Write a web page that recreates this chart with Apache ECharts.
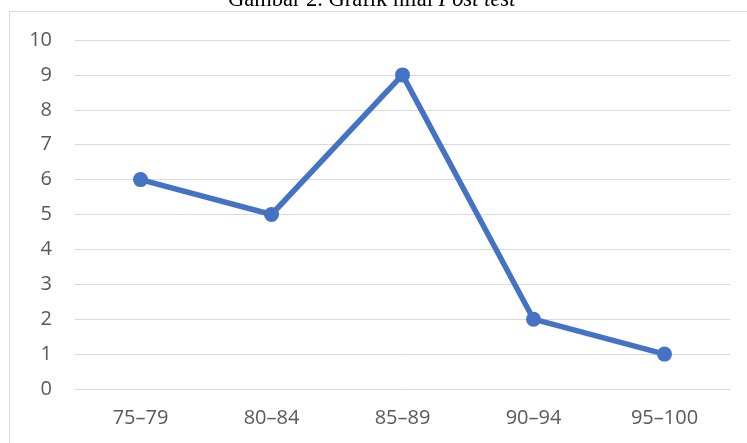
<!DOCTYPE html>
<html>
<head>
<meta charset="utf-8">
<script src="https://cdn.jsdelivr.net/npm/echarts@6/dist/echarts.min.js"></script>
<style>
  html, body { margin: 0; padding: 0; background: #fff; }
  #chart { width: 747px; height: 443px; }
</style>
</head>
<body>
<div id="chart"></div>
<script>
// Score ranges and number of students per range
const categories = ['75–79', '80–84', '85–89', '90–94', '95–100'];
const counts = [6, 5, 9, 2, 1];
const yTicks = { min: 0, max: 10, interval: 1 };

const chart = echarts.init(document.getElementById('chart'));
chart.setOption({
  animation: false,
  graphic: [
    {
      type: 'rect',
      shape: { x: 9.5, y: 11.5, width: 760, height: 460 },
      style: { fill: 'none', stroke: '#d9d9d9', lineWidth: 1 },
      z: -1
    },
    {
      type: 'text',
      left: 228,
      top: -11,
      style: {
        text: '{n|Gambar 2. Grafik nilai }{i|Post test}',
        rich: {
          n: { fontFamily: 'Liberation Serif', fontSize: 22.5, fill: '#000' },
          i: { fontFamily: 'Liberation Serif', fontSize: 22.5, fontStyle: 'italic', fill: '#000' }
        }
      }
    }
  ],
  grid: { left: 75, right: 17, top: 40, bottom: 54 },
  xAxis: {
    type: 'category',
    data: categories,
    axisLine: { show: true, lineStyle: { color: '#d9d9d9', width: 1 } },
    axisTick: { show: false },
    axisLabel: { color: '#595959', fontFamily: 'Open Sans', fontSize: 20, margin: 19 }
  },
  yAxis: {
    type: 'value',
    min: yTicks.min,
    max: yTicks.max,
    interval: yTicks.interval,
    axisLine: { show: false },
    axisTick: { show: false },
    splitLine: { lineStyle: { color: '#d9d9d9', width: 1 } },
    axisLabel: { color: '#595959', fontFamily: 'Open Sans', fontSize: 20, margin: 23 }
  },
  series: [{
    type: 'line',
    data: counts,
    symbol: 'circle',
    symbolSize: 15,
    lineStyle: { color: '#4472c4', width: 5.5 },
    itemStyle: { color: '#4472c4' }
  }]
});
</script>
</body>
</html>
